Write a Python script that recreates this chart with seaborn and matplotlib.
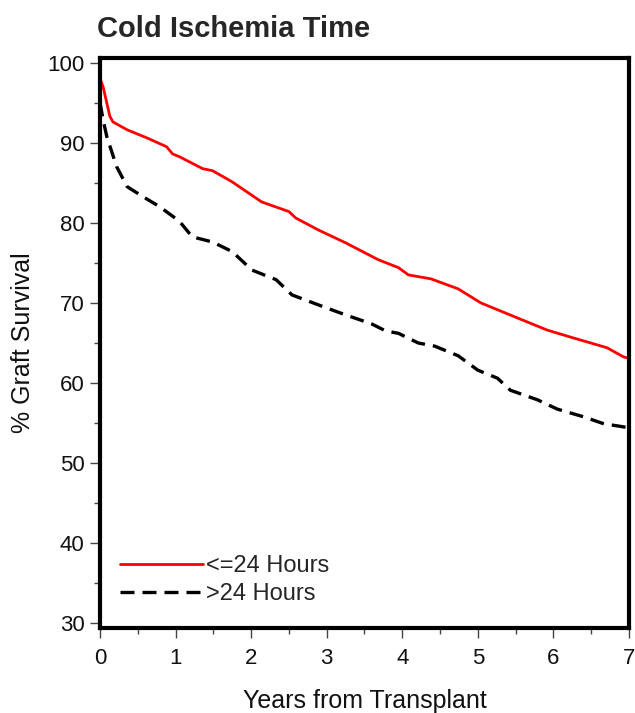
import matplotlib
matplotlib.use("Agg")
import matplotlib.pyplot as plt
from matplotlib.ticker import MultipleLocator
import seaborn as sns
import pandas as pd

sns.set_style("white")
plt.rcParams['font.family'] = ['Liberation Sans', 'DejaVu Sans']

title = "Cold Ischemia Time"
xlabel = "Years from Transplant"
ylabel = "% Graft Survival"
labels = ["<=24 Hours", ">24 Hours"]

years_le24 = [0, 0.04, 0.13, 0.17, 0.36, 0.62, 0.88, 0.96, 1.05, 1.36, 1.49, 1.75,
              2.14, 2.50, 2.59, 2.89, 3.25, 3.68, 3.95, 4.08, 4.38, 4.74, 5.04,
              5.53, 5.92, 6.22, 6.71, 6.93, 7.0]
surv_le24 = [98, 97, 93.3, 92.6, 91.6, 90.6, 89.5, 88.6, 88.25, 86.75, 86.5, 85.1,
             82.6, 81.4, 80.6, 79.1, 77.5, 75.4, 74.4, 73.5, 73, 71.75, 70,
             68.1, 66.6, 65.75, 64.4, 63.25, 63.1]

years_gt24 = [0, 0.04, 0.09, 0.22, 0.36, 0.57, 0.79, 1.05, 1.22, 1.49, 1.75, 2.01,
              2.33, 2.54, 2.89, 3.25, 3.59, 3.78, 3.95, 4.21, 4.43, 4.74, 5.00,
              5.26, 5.43, 5.79, 6.05, 6.41, 6.67, 6.88, 7.0]
surv_gt24 = [95, 92.9, 90.75, 87, 84.5, 83.25, 82, 80.2, 78.25, 77.6, 76.4, 74.1,
             72.9, 71, 69.75, 68.5, 67.4, 66.5, 66.2, 65, 64.6, 63.4, 61.6,
             60.6, 59.1, 57.9, 56.75, 55.75, 54.9, 54.6, 54.4]

df1 = pd.DataFrame({"years": years_le24, "surv": surv_le24})
df2 = pd.DataFrame({"years": years_gt24, "surv": surv_gt24})

fig = plt.figure(figsize=(6.35, 7.13), dpi=100)
ax = fig.add_axes([0.1575, 0.119, 0.833, 0.800])

sns.lineplot(data=df1, x="years", y="surv", ax=ax, color="#ff0000", linewidth=2.0,
             label=labels[0], estimator=None, sort=False)
sns.lineplot(data=df2, x="years", y="surv", ax=ax, color="black", linewidth=2.4,
             label=labels[1], estimator=None, sort=False, dashes=False)
ax.lines[1].set_dashes([4.2, 2.4])

ax.set_xlim(0, 7)
ax.set_ylim(29.4, 100.6)
ax.xaxis.set_major_locator(MultipleLocator(1))
ax.xaxis.set_minor_locator(MultipleLocator(0.5))
ax.yaxis.set_major_locator(MultipleLocator(10))
ax.yaxis.set_minor_locator(MultipleLocator(5))
ax.tick_params(which='major', direction='out', length=7, width=1, color='#444444',
               labelsize=16, labelcolor='#111111', pad=4, bottom=True, left=True)
ax.tick_params(axis='x', which='major', pad=7)
ax.tick_params(which='minor', direction='out', length=4, width=1, color='#444444',
               bottom=True, left=True)

for s in ax.spines.values():
    s.set_linewidth(3)
    s.set_color('black')

ax.set_xlabel(xlabel, fontsize=18, labelpad=15, color='#111111')
ax.set_ylabel(ylabel, fontsize=18, labelpad=9, color='#111111')
fig.text(0.153, 0.960, title, fontsize=21, fontweight='bold', ha='left', va='center')

leg = ax.legend(loc='lower left', bbox_to_anchor=(0.02, 0.024), frameon=False,
                fontsize=17, handlelength=3.5, handletextpad=0.15, labelspacing=0.25,
                borderaxespad=0)

fig.savefig("out.png", dpi=100)
